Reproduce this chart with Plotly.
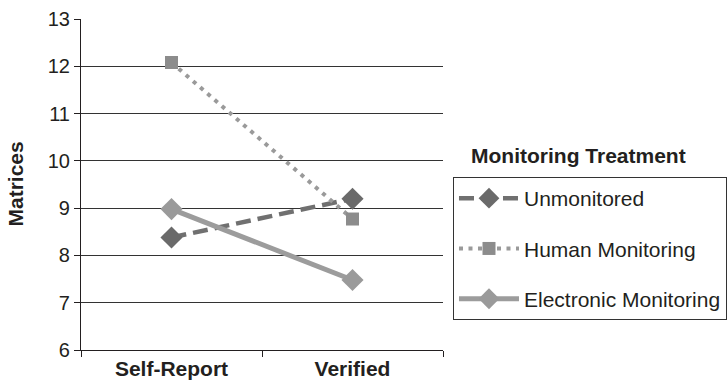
import plotly.graph_objects as go

# Matrices solved, by reporting condition and monitoring treatment
conditions = ["Self-Report", "Verified"]
unmonitored = [8.38, 9.2]
human_monitoring = [12.08, 8.77]
electronic_monitoring = [8.98, 7.48]

series_names = ["Unmonitored", "Human Monitoring", "Electronic Monitoring"]
y_ticks = [6, 7, 8, 9, 10, 11, 12, 13]

FONT = "Liberation Sans, Arial, sans-serif"
INK = "#231f20"

fig = go.Figure()

fig.add_trace(go.Scatter(
    x=conditions, y=unmonitored, name=series_names[0],
    mode="lines+markers", legendgroup="a",
    line=dict(color="#707070", width=4.5, dash="15px,7px"),
    marker=dict(symbol="diamond", size=17, color="#6a6a6a"),
))
fig.add_trace(go.Scatter(
    x=conditions, y=human_monitoring, name=series_names[1],
    mode="lines+markers", legendgroup="b",
    line=dict(color="#9a9a9a", width=4, dash="4px,5.5px"),
    marker=dict(symbol="square", size=13, color="#8c8c8c"),
))
fig.add_trace(go.Scatter(
    x=conditions, y=electronic_monitoring, name=series_names[2],
    mode="lines+markers", legendgroup="c",
    line=dict(color="#9c9c9c", width=5),
    marker=dict(symbol="diamond", size=17, color="#9a9a9a"),
))

fig.update_layout(
    width=728, height=382,
    margin=dict(l=81, r=285, t=19, b=32, autoexpand=False),
    paper_bgcolor="white", plot_bgcolor="white",
    font=dict(family=FONT, color=INK),
    showlegend=True,
    legend=dict(
        x=1.0276, y=(350 - 177) / 331, xanchor="left", yanchor="top",
        bgcolor="white", bordercolor="#333333", borderwidth=1,
        font=dict(size=21, family=FONT, color=INK),
        traceorder="grouped", tracegroupgap=20, itemwidth=60,
    ),
    annotations=[
        dict(
            text="<b>Monitoring Treatment</b>", xref="paper", yref="paper",
            x=(469 - 81) / 362, y=(350 - 155) / 331, xanchor="left", yanchor="middle",
            showarrow=False, font=dict(size=21, family=FONT, color=INK),
        ),
        dict(
            text="<b>Matrices</b>", xref="paper", yref="paper",
            x=(15 - 81) / 362, y=0.5, xanchor="center", yanchor="middle",
            textangle=-90, showarrow=False, font=dict(size=21, family=FONT, color=INK),
        ),
    ],
)

fig.update_xaxes(
    type="category", categoryorder="array", categoryarray=conditions,
    range=[-0.5, 1.5], tickson="boundaries",
    ticks="outside", ticklen=6, tickcolor=INK,
    showline=True, linecolor=INK, linewidth=1.2,
    showgrid=False, zeroline=False,
    tickfont=dict(size=21, family=FONT, color=INK),
    tickprefix="<b>", ticksuffix="</b>",
)
fig.update_yaxes(
    range=[6, 13], tickvals=y_ticks,
    ticks="outside", ticklen=6, tickcolor=INK,
    showline=True, linecolor=INK, linewidth=1.2,
    showgrid=True, gridcolor="#333333", gridwidth=1,
    zeroline=False,
    tickfont=dict(size=20, family=FONT, color=INK),
)

fig.write_html("out.html")
